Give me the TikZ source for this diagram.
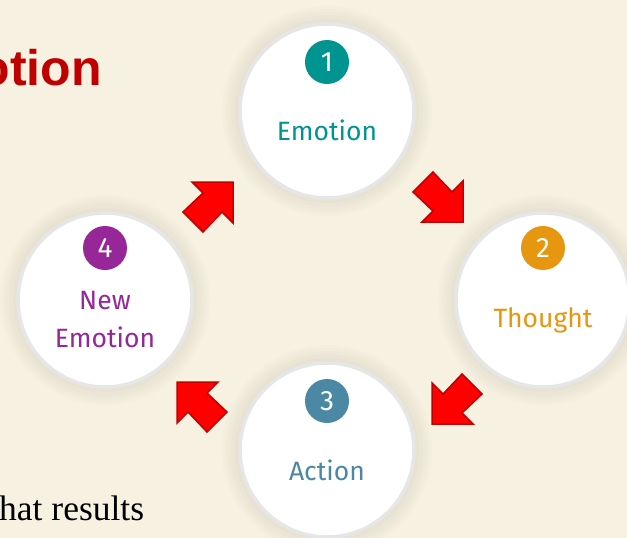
\documentclass[tikz,border=0pt]{standalone}
\usepackage{fontspec}
\setmainfont{Liberation Serif}
\newfontfamily\comicfont{Fira Sans}
\newfontfamily\titlefont{Liberation Sans}
\definecolor{bg}{RGB}{247,241,226}
\definecolor{glow}{RGB}{226,220,204}
\definecolor{ringgray}{RGB}{230,230,230}
\definecolor{arrowdark}{RGB}{192,0,0}
\definecolor{titlered}{RGB}{192,0,0}
\definecolor{cteal}{RGB}{0,148,145}
\definecolor{corange}{RGB}{230,150,15}
\definecolor{cblue}{RGB}{74,136,163}
\definecolor{cpurple}{RGB}{151,38,153}
\tikzset{
  stagecircle/.style={circle, fill=white, draw=ringgray, line width=3.5pt, minimum size=174pt, inner sep=0pt},
  badge/.style={circle, fill=#1, text=white, minimum size=44pt, inner sep=0pt, font=\comicfont\fontsize{28}{28}\selectfont},
  stagelabel/.style={text=#1, align=center, inner sep=0pt, font=\comicfont\fontsize{26.5}{38}\selectfont},
  blockarrow/.style={fill=red, draw=arrowdark, line width=1.5pt, line join=miter},
}
\newcommand{\glowat}[1]{%
  \foreach \rr/\op in {105/0.10,102/0.13,99/0.16,96/0.2,92/0.25}{%
    \fill[glow, opacity=\op] #1 circle (\rr pt);
  }%
}
\begin{document}
\begin{tikzpicture}[x=1pt,y=-1pt]
\useasboundingbox (0,0) rectangle (627,538);
\clip (0,0) rectangle (627,538);
\fill[bg] (0,0) rectangle (627,538);

% title and body text (cut by the frame, as in the reference)
\node[anchor=base east, inner sep=0pt, text=titlered, font=\titlefont\bfseries\fontsize{50}{50}\selectfont] (title) at (102,85) {Emotion};
\node[anchor=base west, inner sep=0pt, font=\fontsize{35.5}{35.5}\selectfont] (body) at (-1,520) {hat results};

% glows
\glowat{(327,111)}
\glowat{(543,300)}
\glowat{(327,450)}
\glowat{(105,300)}

% stage circles
\node[stagecircle] (c1) at (327,111) {};
\node[stagecircle] (c2) at (543,300) {};
\node[stagecircle] (c3) at (327,450) {};
\node[stagecircle] (c4) at (105,300) {};

% badges
\node[badge=cteal]   (b1) at (327,62)  {1};
\node[badge=corange] (b2) at (543,248) {2};
\node[badge=cblue]   (b3) at (327,401) {3};
\node[badge=cpurple] (b4) at (105,248) {4};

% labels
\node[stagelabel=cteal]   (l1) at (327,130) {Emotion};
\node[stagelabel=corange] (l2) at (543,320) {Thought};
\node[stagelabel=cblue]   (l3) at (327,470) {Action};
\node[stagelabel=cpurple] (l4) at (105,320) {New\\Emotion};

% block arrows
\draw[blockarrow, shift={(233,182)}] (0,0) -- (-41,0) -- (-30,11) -- (-50,30) -- (-30,50) -- (-11,30) -- (0,41) -- cycle;
\draw[blockarrow, shift={(463,222)}] (0,0) -- (0,-41) -- (-11,-30) -- (-30,-50) -- (-50,-30) -- (-30,-11) -- (-41,0) -- cycle;
\draw[blockarrow, shift={(432,424)}] (0,0) -- (0,-41) -- (11,-30) -- (30,-50) -- (50,-30) -- (30,-11) -- (41,0) -- cycle;
\draw[blockarrow, shift={(177,382)}] (0,0) -- (41,0) -- (30,11) -- (50,30) -- (30,50) -- (11,30) -- (0,41) -- cycle;
\end{tikzpicture}
\end{document}
